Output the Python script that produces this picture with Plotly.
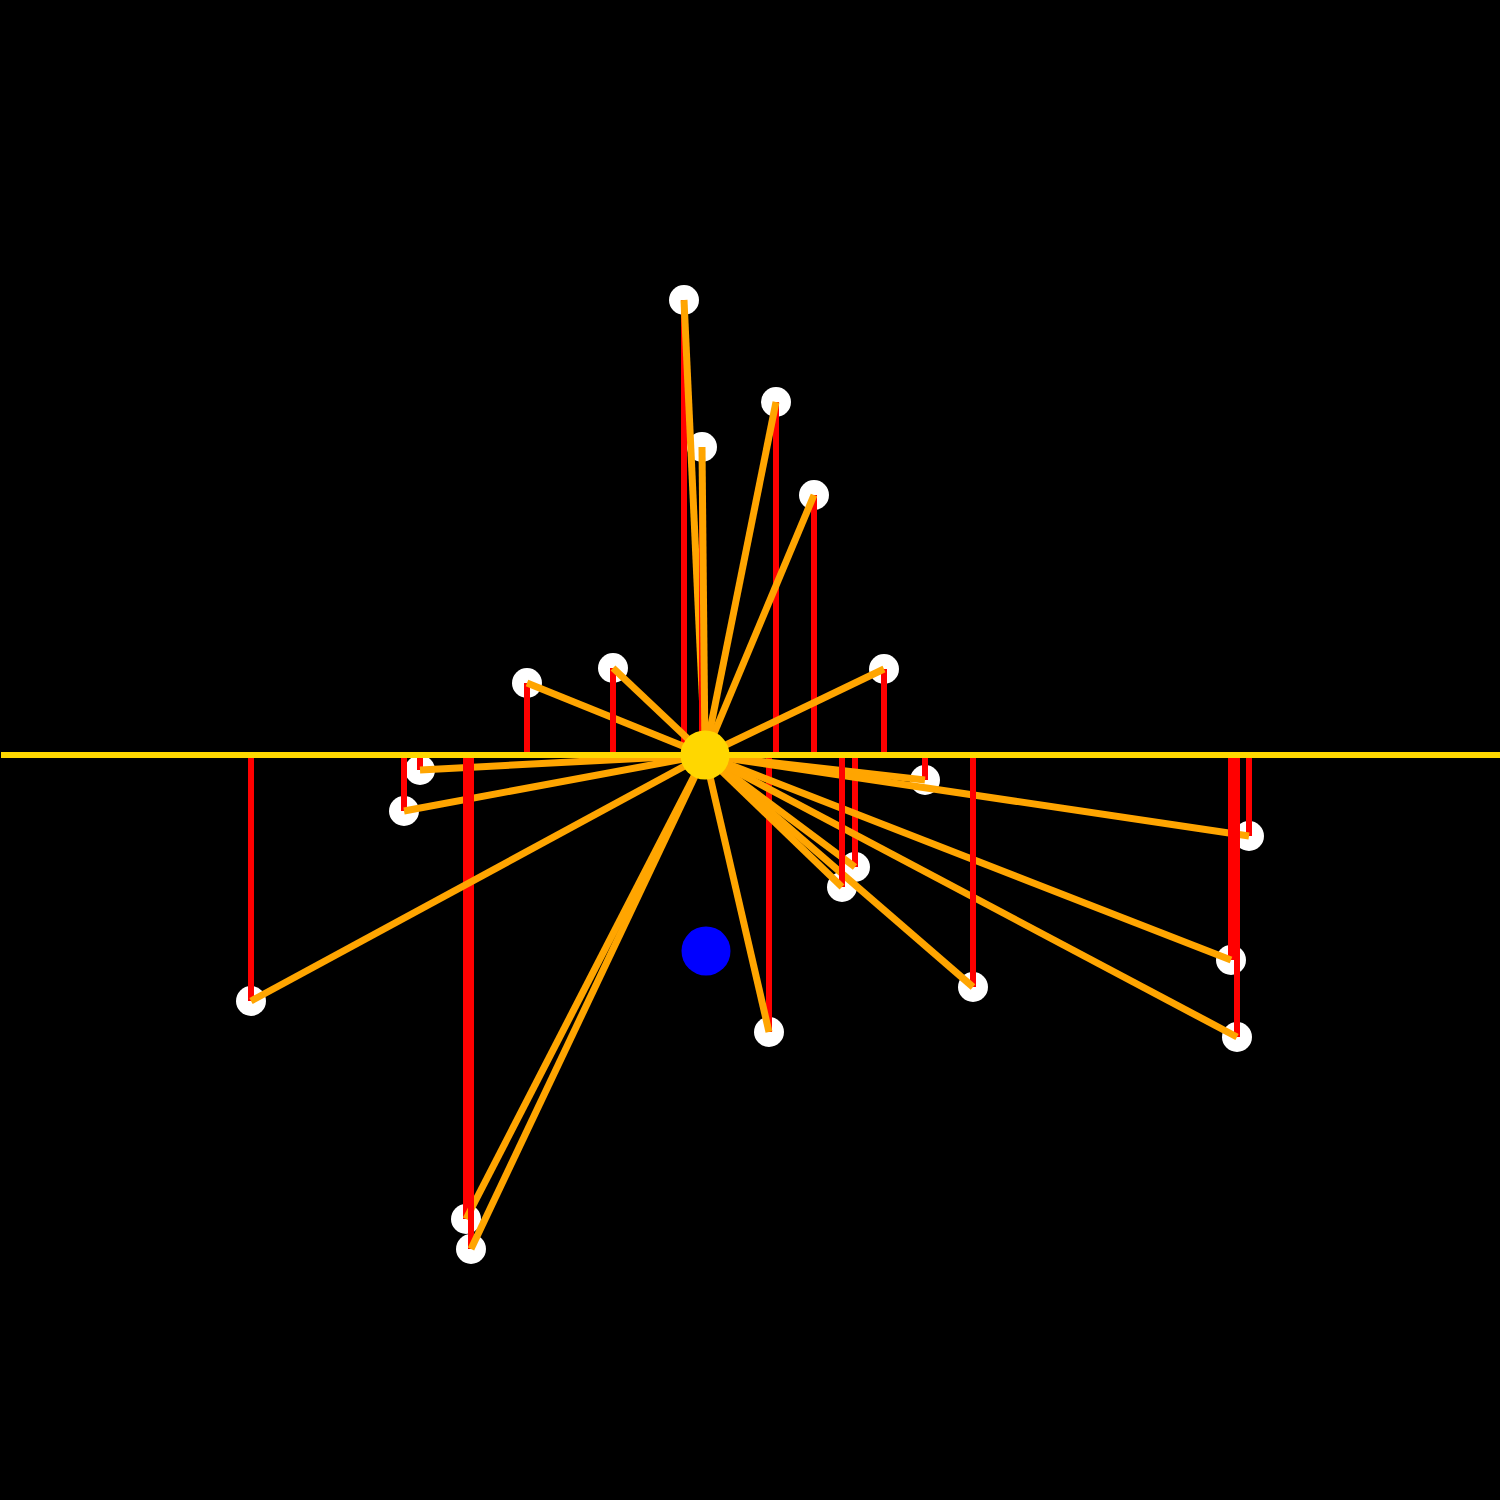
import plotly.graph_objects as go

# Hub (centre) and baseline
hub_x, hub_y = 705, 755
baseline_y = 755
blue_x, blue_y = 706, 951

# Satellite points (x position, vertical position on the canvas scale)
pt_x = [684, 776, 702, 814, 527, 613, 884, 420, 404, 925, 251, 466, 471, 769, 842, 855, 973, 1249, 1231, 1237]
pt_y = [300, 402, 447, 495, 683, 668, 669, 770, 811, 780, 1001, 1219, 1249, 1032, 887, 867, 987, 836, 960, 1037]

# drawing order of the point pairs (stem + spoke)
order = [0, 1, 2, 3, 4, 5, 6, 7, 8, 11, 12, 10, 13, 15, 9, 17, 18, 19, 16, 14]

fig = go.Figure()

# white markers underneath
fig.add_trace(go.Scatter(x=pt_x, y=pt_y, mode="markers",
                         marker=dict(size=30, color="#FFFFFF", line=dict(width=0)),
                         hoverinfo="skip"))

for i in order:
    fig.add_trace(go.Scatter(x=[pt_x[i], pt_x[i]], y=[baseline_y, pt_y[i]], mode="lines",
                             line=dict(color="#FF0000", width=6), hoverinfo="skip"))
    fig.add_trace(go.Scatter(x=[hub_x, pt_x[i]], y=[hub_y, pt_y[i]], mode="lines",
                             line=dict(color="#FFA500", width=7), hoverinfo="skip"))

# baseline
fig.add_trace(go.Scatter(x=[1, 1500], y=[baseline_y, baseline_y], mode="lines",
                         line=dict(color="#FFD700", width=6), hoverinfo="skip"))

# hub
fig.add_trace(go.Scatter(x=[hub_x], y=[hub_y], mode="markers",
                         marker=dict(size=49, color="#FFD700", line=dict(width=0)),
                         hoverinfo="skip"))
# blue dot
fig.add_trace(go.Scatter(x=[blue_x], y=[blue_y], mode="markers",
                         marker=dict(size=49, color="#0000FF", line=dict(width=0)),
                         hoverinfo="skip"))

fig.update_layout(
    width=1500, height=1500,
    margin=dict(l=0, r=0, t=0, b=0),
    paper_bgcolor="#000000", plot_bgcolor="#000000",
    showlegend=False,
    xaxis=dict(range=[0, 1500], visible=False, showgrid=False, zeroline=False),
    yaxis=dict(range=[1500, 0], visible=False, showgrid=False, zeroline=False),
)

fig.write_html("out.html",
               config={"displayModeBar": False},
               post_script="document.body.style.margin='0';document.body.style.background='#000';")
